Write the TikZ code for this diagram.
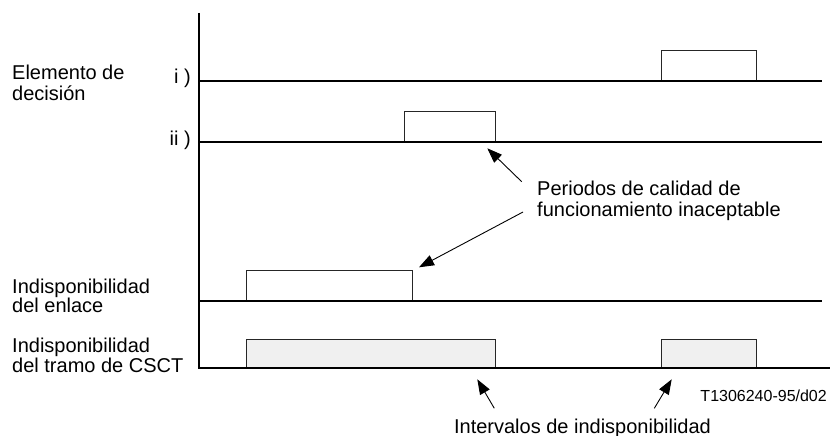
\documentclass[tikz,border=0pt]{standalone}
\usepackage{fontspec}
\setmainfont{Liberation Sans}
\usetikzlibrary{arrows.meta}
\begin{document}
\begin{tikzpicture}[x=1pt,y=-1pt,
  axis/.style={line width=2pt},
  pulse/.style={draw=black!85, line width=0.9pt},
  shaded/.style={pulse, fill=black!6},
  lbl/.style={font=\fontsize{20}{21}\selectfont, inner sep=0pt, align=left, anchor=base west},
  small/.style={font=\fontsize{16}{16}\selectfont, inner sep=0pt},
  ptr/.style={line width=0.9pt, -{Triangle[length=15pt,width=11pt]}}]
\useasboundingbox (0,0) rectangle (830,436);
% pulses
\draw[pulse] (661.7,80.7) rectangle (756,50.7);
\draw[pulse] (404.3,141.7) rectangle (495.7,111.7);
\draw[pulse] (246,300.7) rectangle (412.3,270.7);
\draw[shaded] (246,368.3) rectangle (495.7,339);
\draw[shaded] (661.7,368.3) rectangle (756,339);
% axes
\coordinate (ytop) at (199,13);
\coordinate (ybot) at (199,368.3);
\draw[axis] (ytop) -- (ybot);
\coordinate (li0) at (199,80.7);  \coordinate (li1) at (822,80.7);
\coordinate (lii0) at (199,141.7); \coordinate (lii1) at (822,141.7);
\coordinate (le0) at (199,300.7); \coordinate (le1) at (822,300.7);
\coordinate (lc0) at (198,368.3); \coordinate (lc1) at (830,368.3);
\draw[axis] (li0) -- (li1);
\draw[axis] (lii0) -- (lii1);
\draw[axis] (le0) -- (le1);
\draw[axis] (lc0) -- (lc1);
% labels (base = baseline of last line)
\node[lbl] (elem) at (12,100) {Elemento de\\decisión};
\node[lbl, anchor=base east] (ri) at (191,83) {i )};
\node[lbl, anchor=base east] (rii) at (191,145) {ii )};
\node[lbl] (per) at (537,216.7) {Periodos de calidad de\\funcionamiento inaceptable};
\node[lbl, font=\fontsize{20}{19}\selectfont] (enl) at (12,312) {Indisponibilidad\\del enlace};
\node[lbl, font=\fontsize{20}{18}\selectfont] (csct) at (12,372.5) {Indisponibilidad\\del tramo de CSCT};
\node[small, anchor=base east] (code) at (827,401.7) {T1306240-95/d02};
\node[lbl, anchor=base] (int) at (582.5,433.3) {Intervalos de indisponibilidad};
% pointers
\coordinate (a1s) at (521.7,181.7); \coordinate (a1e) at (487.3,148.3);
\coordinate (a2s) at (523,212);     \coordinate (a2e) at (419,267.3);
\coordinate (a3s) at (494.3,408.3); \coordinate (a3e) at (477.3,379.3);
\coordinate (a4s) at (654.3,408.3); \coordinate (a4e) at (671.7,379.3);
\draw[ptr] (a1s) -- (a1e);
\draw[ptr] (a2s) -- (a2e);
\draw[ptr] (a3s) -- (a3e);
\draw[ptr] (a4s) -- (a4e);
\end{tikzpicture}
\end{document}
